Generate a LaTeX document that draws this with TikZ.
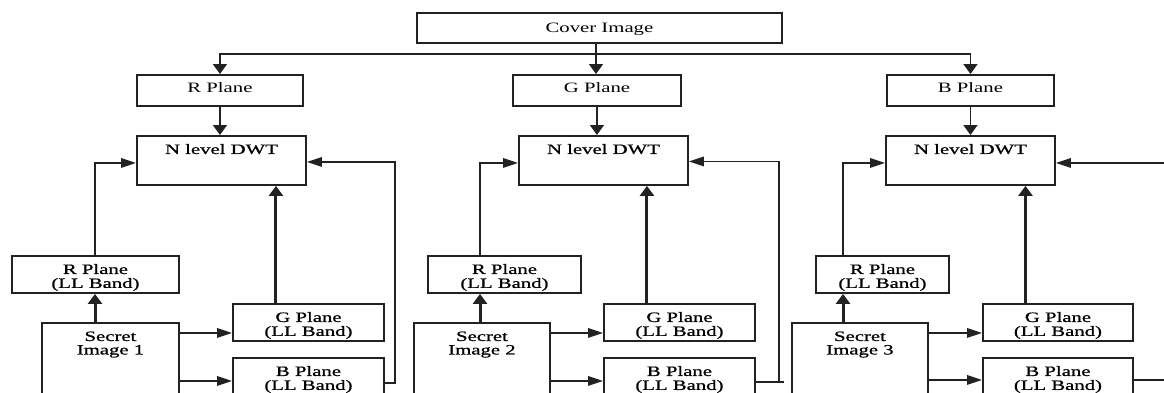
\documentclass[tikz,border=0pt]{standalone}
\usepackage{fontspec}
\setmainfont{Liberation Serif}[FakeStretch=1.45]
\newfontfamily\heavyface{Liberation Serif}[FakeStretch=1.45,FakeBold=0.9]
\usetikzlibrary{arrows.meta}
\definecolor{ink}{HTML}{222222}
\newcommand\pair[2]{\begin{tabular}[t]{@{}c@{}}#1\\#2\end{tabular}}
\tikzset{
  box/.style={draw=ink, line width=1.9pt, inner sep=0pt, anchor=north west,
              text height=18pt, font=\heavyface\fontsize{14.3pt}{13.5pt}\selectfont},
  plainbox/.style={box, font=\fontsize{14.3pt}{13.5pt}\selectfont},
  ln/.style={draw=ink, line width=1.7pt},
  va/.style={ln, -{Triangle[length=10pt,width=14pt]}},
  ha/.style={ln, -{Triangle[length=15pt,width=9.5pt]}},
  thick va/.style={va, line width=3pt},
}
\begin{document}
\begin{tikzpicture}[x=1pt, y=-1pt]
\useasboundingbox (0,0) rectangle (1164,392);
\clip (0,0) rectangle (1164,392);

% cover image and its three colour planes
\node[plainbox, minimum width=365pt, minimum height=30pt, text height=20pt, text depth=10pt] (cover) at (416,12) {Cover Image};
\node[plainbox, minimum width=166pt, minimum height=31pt, text depth=13pt] (rp) at (136,74) {R Plane};
\node[plainbox, minimum width=168pt, minimum height=31pt, text depth=13pt] (gp) at (512,74) {G Plane};
\node[plainbox, minimum width=167pt, minimum height=31pt, text depth=13pt] (bp) at (886,74) {B Plane};

% DWT blocks
\node[box, minimum width=169pt, minimum height=49pt, text depth=31pt] (dwt1) at (136,135) {N level DWT};
\node[box, minimum width=169pt, minimum height=49pt, text depth=31pt] (dwt2) at (518,135) {N level DWT};
\node[box, minimum width=169pt, minimum height=49pt, text depth=31pt] (dwt3) at (885,135) {N level DWT};

% LL bands of the secret images
\node[box, minimum width=167pt, minimum height=37pt, text depth=19pt] (rll1) at (11,255) {\pair{R Plane}{(LL Band)}};
\node[box, minimum width=153pt, minimum height=37pt, text depth=19pt] (rll2) at (427,255) {\pair{R Plane}{(LL Band)}};
\node[box, minimum width=133pt, minimum height=37pt, text depth=19pt] (rll3) at (815,255) {\pair{R Plane}{(LL Band)}};
\node[box, minimum width=151pt, minimum height=37pt, text depth=19pt] (gll1) at (232,303) {\pair{G Plane}{(LL Band)}};
\node[box, minimum width=151pt, minimum height=37pt, text depth=19pt] (gll2) at (603,303) {\pair{G Plane}{(LL Band)}};
\node[box, minimum width=150pt, minimum height=37pt, text depth=19pt] (gll3) at (982,303) {\pair{G Plane}{(LL Band)}};
\node[box, minimum width=151pt, minimum height=40pt, text depth=22pt] (bll1) at (232,357) {\pair{B Plane}{(LL Band)}};
\node[box, minimum width=151pt, minimum height=40pt, text depth=22pt] (bll2) at (603,357) {\pair{B Plane}{(LL Band)}};
\node[box, minimum width=150pt, minimum height=40pt, text depth=22pt] (bll3) at (982,357) {\pair{B Plane}{(LL Band)}};

% secret images
\node[box, minimum width=137pt, minimum height=110pt, text depth=92pt] (sec1) at (41,322) {\pair{Secret}{Image 1}};
\node[box, minimum width=136pt, minimum height=110pt, text depth=92pt] (sec2) at (413,322) {\pair{Secret}{Image 2}};
\node[box, minimum width=136pt, minimum height=110pt, text depth=92pt] (sec3) at (791,322) {\pair{Secret}{Image 3}};

% helper coordinates
\coordinate (bus) at (596,54);
\coordinate (v1) at (95,0);
\coordinate (v2) at (480,0);
\coordinate (v3) at (843,0);
\coordinate (up1) at (395,0);
\coordinate (up2) at (779,0);
\coordinate (edge) at (1170,0);
\foreach \i in {1,2,3} {
  \coordinate (gin\i) at ([yshift=-10.5pt]gll\i.west);
  \coordinate (dl\i) at ([yshift=-2.5pt]dwt\i.west);
  \coordinate (gup\i) at ([xshift=-32.5pt]gll\i.north);
}
\coordinate (bin1) at ([yshift=-3pt]bll1.west);
\coordinate (bin2) at ([yshift=-3pt]bll2.west);
\coordinate (bin3) at ([yshift=-2pt]bll3.west);
\coordinate (bout1) at ([yshift=-5pt]bll1.east);
\coordinate (bout2) at ([yshift=-4pt]bll2.east);
\coordinate (bout3) at ([yshift=-2pt]bll3.east);
\coordinate (dr1) at ([yshift=-1.5pt]dwt1.east);
\coordinate (dr2) at ([yshift=-1pt]dwt2.east);
\coordinate (dr3) at ([yshift=-2.5pt]dwt3.east);

% cover image split
\draw[ln] (cover.south -| bus) -- (bus);
\draw[va] (bus) -| (rp.north);
\draw[va] (bus) -| (bp.north);
\draw[va] (bus) -- (bus |- gp.north);

% planes into DWT
\draw[va] (rp.south) -- (rp.south |- dwt1.north);
\draw[va] (gp.south) -- (gp.south |- dwt2.north);
\draw[va] (bp.south) -- (bp.south |- dwt3.north);

% columns of secret images
\foreach \i in {1,2,3} {
  \draw[thick va] (sec\i.north -| v\i) -- (rll\i.south -| v\i);
  \draw[ha] (rll\i.north -| v\i) |- (dl\i);
  \draw[ha] (sec\i.east |- gin\i) -- (gin\i);
  \draw[ha] (sec\i.east |- bin\i) -- (bin\i);
  \draw[thick va] (gup\i) -- (gup\i |- dwt\i.south);
}

% feedback of the B plane into the DWT
\draw[ha] (bout1) -| (up1 |- dr1) -- (dr1);
\draw[ln] (bout2) -- ++(28,0);
\draw[ha] (up2 |- bout2) -- (up2 |- dr2) -- (dr2);
\draw[ln] (bout3) -- (edge |- bout3);
\draw[ha] (edge |- dr3) -- (dr3);
\end{tikzpicture}
\end{document}
